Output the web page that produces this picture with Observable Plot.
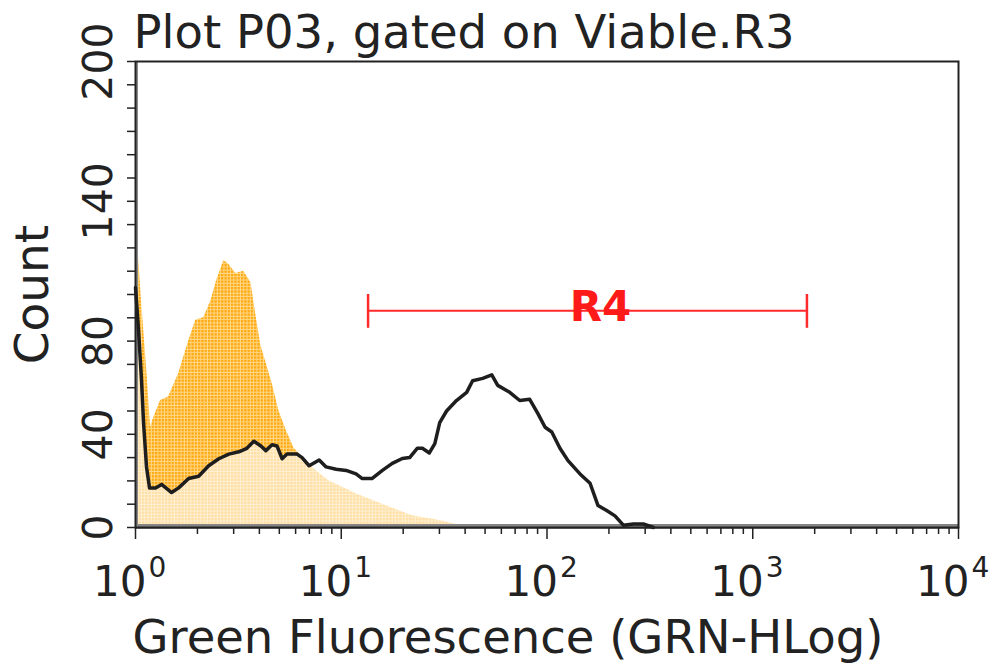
<!DOCTYPE html>
<html><head><meta charset="utf-8">
<script src="https://cdn.jsdelivr.net/npm/d3@7"></script>
<script src="https://cdn.jsdelivr.net/npm/@observablehq/plot@0.6"></script>
<style>body{margin:0;background:#fff;} svg{font-family:"DejaVu Sans",Verdana,sans-serif;}</style>
</head><body><div id="chart"></div>
<script>
const title = "Plot P03, gated on Viable.R3";
const xLabel = "Green Fluorescence (GRN-HLog)";
const yLabel = "Count";
const yTickLabels = [0, 40, 80, 140, 200];
const yTickMarks = [0,10,20,30,40,50,60,70,80,90,100,110,120,130,140,150,160,170,180,190,200];
const xDecades = [1, 10, 100, 1000, 10000];
const xExponents = ["0", "1", "2", "3", "4"];
const xMinorMultipliers = [2,3,4,5,6,7,8,9];

// orange (filled) histogram
const orangeX = [1.0, 1.011, 1.07, 1.131, 1.184, 1.224, 1.324, 1.448, 1.621, 1.813, 1.963, 2.146, 2.32, 2.48, 2.69, 2.84, 3.07, 3.36, 3.64, 3.85, 4.07, 4.3, 4.61, 4.98, 5.39, 5.89, 6.59, 7.54, 8.74, 10.9, 11.8, 15.85, 22.2, 30.1, 37.6, 47, 58.9];
const orangeCount = [130, 129, 97, 69, 43, 47, 54.5, 56, 66, 80, 89, 90, 97, 106, 114.6, 113, 109, 110, 105, 91, 78, 71, 62, 50, 42, 34, 29.6, 24.5, 20, 16, 14.5, 10, 5, 3, 1, 0.5, 0];

// black (overlay) histogram
const blackX = [1.0, 1.034, 1.07, 1.094, 1.131, 1.17, 1.252, 1.339, 1.498, 1.621, 1.813, 2.028, 2.268, 2.541, 2.842, 3.18, 3.478, 3.76, 4.07, 4.3, 4.61, 4.87, 5.16, 5.45, 6.1, 6.45, 6.98, 7.81, 8.44, 9.44, 10.56, 11.8, 12.65, 14.1, 15.85, 17.7, 19.8, 21.5, 23.4, 24.8, 26.8, 28.5, 30.1, 32.5, 36.3, 40.7, 43.5, 48.7, 53.9, 57.6, 65.9, 73.7, 82.4, 90.2, 97.9, 105.5, 115.6, 126.5, 144.7, 161.9, 177, 195, 214, 235, 263, 294, 329];
const blackCount = [103, 85, 63, 45, 26, 17, 17, 18.5, 15, 17, 21, 22, 26.5, 29.5, 31.5, 32.5, 34, 37, 35, 33, 35.5, 35, 29.5, 31.5, 31.5, 30, 26.5, 29, 26, 25, 24.5, 23, 21, 21, 24.5, 27.5, 29.6, 30, 34, 34, 32, 36, 45, 50, 54.5, 58, 63, 64, 65.5, 61, 58, 54.5, 55, 49, 43, 41, 34, 28.7, 23, 19, 9.4, 7.3, 5, 1, 1.5, 1.5, 0];

// gate R4
const gateLabel = "R4";
const gateStart = 13.5;
const gateEnd = 1834;
const gateCount = 93;

const orange = orangeX.map((x, i) => ({x, c: orangeCount[i]}));
const black = blackX.map((x, i) => ({x, c: blackCount[i]}));
const minorTicks = xDecades.slice(0, -1).flatMap(d => xMinorMultipliers.map(m => d * m));
const gateMid = Math.sqrt(gateStart * gateEnd);

const plot = Plot.plot({
  width: 994, height: 664,
  marginLeft: 135, marginRight: 36, marginTop: 61, marginBottom: 137,
  x: {type: "log", domain: [1, 10000], axis: null},
  y: {domain: [0, 200], axis: null},
  style: {fontFamily: "'DejaVu Sans', Verdana, sans-serif", background: "white", color: "#222"},
  marks: [
    Plot.areaY(orange, {x: "x", y: "c", fill: "url(#chk)", curve: "linear"}),
    Plot.areaY(black, {x: "x", y: "c", fill: "white", fillOpacity: 0.62, curve: "linear"}),
    Plot.ruleY([0], {stroke: "#858585", strokeWidth: 5, dy: -1}),
    Plot.ruleX([1], {stroke: "#8a8a8a", strokeWidth: 3, dx: 1}),
    Plot.lineY(black, {x: "x", y: "c", stroke: "#1e1e1e", strokeWidth: 3.5, curve: "linear", strokeLinejoin: "round"}),
    Plot.frame({stroke: "#222", strokeWidth: 2}),
    Plot.axisY({ticks: yTickMarks, tickSize: 8, tickFormat: () => "", label: null, stroke: "#222", strokeWidth: 1.5}),
    Plot.axisX({ticks: xDecades, tickSize: 12, tickFormat: () => "", label: null, stroke: "#222", strokeWidth: 1.5}),
    Plot.axisX({ticks: minorTicks, tickSize: 7, tickFormat: () => "", label: null, stroke: "#222", strokeWidth: 1.5}),
    Plot.text(yTickLabels, {y: d => d, text: d => String(d), frameAnchor: "left", rotate: -90, dx: -37, fontSize: 41, textAnchor: "middle", lineAnchor: "middle", fill: "#222"}),
    Plot.text(xDecades, {x: d => d, text: () => "10", frameAnchor: "bottom", textAnchor: "end", lineAnchor: "bottom", dx: 11, dy: 68, fontSize: 42, fill: "#222"}),
    Plot.text(xDecades, {x: d => d, text: (d, i) => xExponents[i], frameAnchor: "bottom", textAnchor: "start", lineAnchor: "bottom", dx: 13, dy: 49, fontSize: 28, fill: "#222"}),
    Plot.text([title], {frameAnchor: "top-left", textAnchor: "start", lineAnchor: "bottom", dx: -2, dy: -14, fontSize: 46.5, fill: "#222"}),
    Plot.text([yLabel], {frameAnchor: "left", rotate: -90, dx: -103, fontSize: 47, textAnchor: "middle", lineAnchor: "middle", fill: "#222"}),
    Plot.text([xLabel], {frameAnchor: "bottom-left", textAnchor: "start", lineAnchor: "bottom", dx: -3, dy: 125, fontSize: 46.5, fill: "#222"}),
    Plot.ruleY([gateCount], {x1: gateStart, x2: gateEnd, y: d => d, stroke: "#ff2a2a", strokeWidth: 2}),
    Plot.ruleX([gateStart, gateEnd], {x: d => d, y1: gateCount - 7.5, y2: gateCount + 7, stroke: "#ff2a2a", strokeWidth: 2.5}),
    Plot.text([gateLabel], {x: gateMid, y: gateCount, text: d => d, textAnchor: "middle", lineAnchor: "bottom", dx: 13, dy: 10, fontSize: 42, fontWeight: "bold", fill: "#ff1a1a"})
  ]
});

const svg = d3.select(plot);
const defs = svg.insert("defs", ":first-child");
const pat = defs.append("pattern").attr("id", "chk").attr("width", 3.3).attr("height", 3.3).attr("patternUnits", "userSpaceOnUse");
pat.append("rect").attr("width", 3.3).attr("height", 3.3).attr("fill", "#FFD98A");
pat.append("rect").attr("width", 2.3).attr("height", 2.3).attr("fill", "#FFA80F");
document.getElementById("chart").appendChild(plot);
</script>
</body></html>
